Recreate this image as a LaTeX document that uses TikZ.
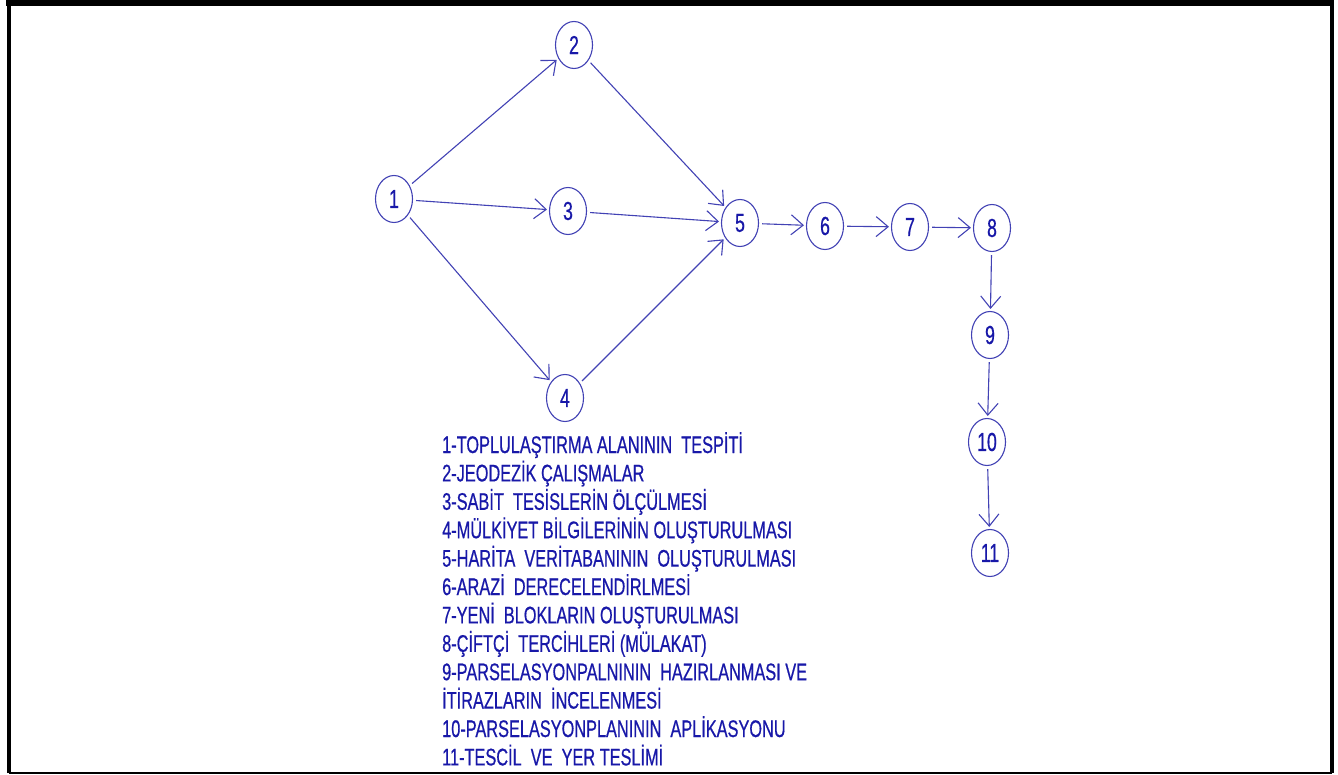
\documentclass[tikz,border=0pt]{standalone}
\usepackage{fontspec}
\setmainfont{Liberation Sans}[FakeStretch=0.68,FakeBold=0.6]
\usetikzlibrary{shapes.geometric,arrows.meta}
\definecolor{netblue}{RGB}{24,24,168}
\definecolor{edgeblue}{RGB}{66,66,180}
\tikzset{
    stage/.style={ellipse, draw=edgeblue, line width=1.1pt, text=netblue, inner sep=0pt,
        minimum width=37pt, minimum height=47pt, font=\fontsize{26}{26}\selectfont},
    flow/.style={-{Straight Barb[length=12pt,width=20pt]}, draw=edgeblue, line width=1.1pt,
        shorten <=3pt, shorten >=2pt},
    legend line/.style={anchor=base west, text=netblue, inner sep=0pt,
        font=\fontsize{24}{24}\selectfont}
}
\begin{document}
\begin{tikzpicture}[x=1pt,y=-1pt]
    \useasboundingbox (0,0) rectangle (1338,775);
    % frame
    \draw[line width=6pt] (6,3) -- (1334,3);
    \draw[line width=4pt] (9,773) -- (9,3);
    \draw[line width=4pt] (1332,773) -- (1332,3);
    \draw[line width=1.5pt] (9,773) -- (1332,773);
    % stages
    \node[stage] (s1) at (394,199) {1};
    \node[stage] (s2) at (574,45) {2};
    \node[stage] (s3) at (568,211) {3};
    \node[stage] (s4) at (565,398) {4};
    \node[stage] (s5) at (740,223) {5};
    \node[stage] (s6) at (825,226) {6};
    \node[stage] (s7) at (910,227) {7};
    \node[stage] (s8) at (992,228) {8};
    \node[stage] (s9) at (990,335) {9};
    \node[stage] (s10) at (987,442) {10};
    \node[stage] (s11) at (990,553) {11};
    % arrows
    \foreach \a/\b in {1/2,2/5,1/3,3/5,1/4,4/5,5/6,6/7,7/8,8/9,9/10,10/11}
        \draw[flow] (s\a) -- (s\b);
    % legend
    \foreach \txt [count=\i] in {
        1-TOPLULAŞTIRMA ALANININ\ \ TESPİTİ,
        2-JEODEZİK ÇALIŞMALAR,
        3-SABİT\ \ TESİSLERİN ÖLÇÜLMESİ,
        4-MÜLKİYET BİLGİLERİNİN OLUŞTURULMASI,
        5-HARİTA\ \ VERİTABANININ\ \ OLUŞTURULMASI,
        6-ARAZİ\ \ DERECELENDİRLMESİ,
        7-YENİ\ \ BLOKLARIN OLUŞTURULMASI,
        8-ÇİFTÇİ\ \ TERCİHLERİ (MÜLAKAT),
        9-PARSELASYONPALNININ\ \ HAZIRLANMASI VE,
        İTİRAZLARIN\ \ İNCELENMESİ,
        10-PARSELASYONPLANININ\ \ APLİKASYONU,
        11-TESCİL\ \ VE\ \ YER TESLİMİ}
        \node[legend line] (l\i) at (442,{453+28.4*(\i-1)}) {\txt};
\end{tikzpicture}
\end{document}
